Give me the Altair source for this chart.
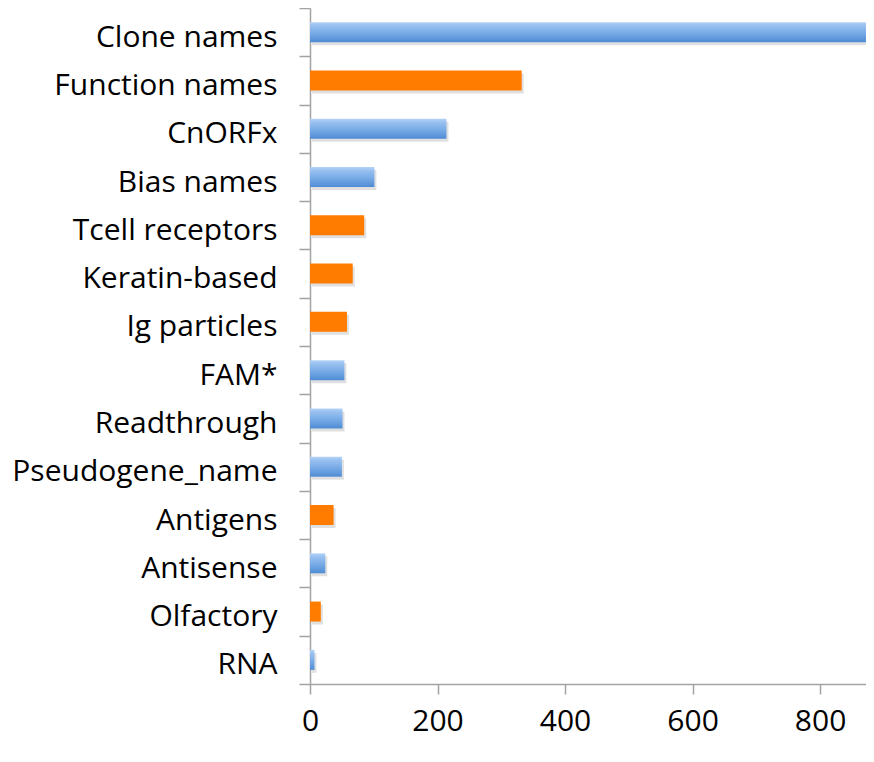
import altair as alt
import pandas as pd

categories = ["Clone names", "Function names", "CnORFx", "Bias names", "Tcell receptors",
              "Keratin-based", "Ig particles", "FAM*", "Readthrough", "Pseudogene_name",
              "Antigens", "Antisense", "Olfactory", "RNA"]
counts = [882, 332, 214, 101, 85, 67, 58, 54, 51, 50, 37, 24, 17, 7]
groups = ["blue", "orange", "blue", "blue", "orange", "orange", "orange", "blue",
          "blue", "blue", "orange", "blue", "orange", "blue"]
x_ticks = [0, 200, 400, 600, 800]

df = pd.DataFrame({"category": categories, "count": counts, "group": groups})

FONT = "Open Sans"
AX = "#A3A3A3"
BAR = 20

x_enc = alt.X(
    "count:Q",
    scale=alt.Scale(domain=[0, 872], clamp=True, nice=False, zero=True),
    axis=alt.Axis(values=x_ticks, title=None, grid=False, labelPadding=12,
                  tickSize=10, labelFontSize=30, labelFlush=False),
)
y_enc = alt.Y(
    "category:N",
    sort=categories,
    scale=alt.Scale(paddingInner=0, paddingOuter=0),
    axis=alt.Axis(title=None, tickBand="extent", tickSize=11, labelPadding=22,
                  labelFontSize=30, labelLimit=400, labelOffset=5),
)

base = alt.Chart(df)

shadow = base.mark_bar(color="#000000", opacity=0.12, xOffset=2, yOffset=3,
                       size=BAR).encode(x=x_enc, y=y_enc)

blue = base.transform_filter(alt.datum.group == "blue").mark_bar(
    size=BAR,
    color=alt.Gradient(
        gradient="linear", x1=0, y1=0, x2=0, y2=1,
        stops=[
            alt.GradientStop(color="#B7D4F7", offset=0),
            alt.GradientStop(color="#9BC2F1", offset=0.15),
            alt.GradientStop(color="#78ABE7", offset=0.55),
            alt.GradientStop(color="#4F8CD4", offset=1),
        ],
    ),
).encode(x=x_enc, y=y_enc)

orange = base.transform_filter(alt.datum.group == "orange").mark_bar(
    size=BAR, color="#FF7C00"
).encode(x=x_enc, y=y_enc)

chart = alt.layer(shadow, blue, orange).properties(
    width=556,
    height=676,
    padding={"left": 302, "top": 0, "right": 0, "bottom": 64},
    autosize=alt.AutoSizeParams(type="none"),
).configure_view(stroke=None).configure_axis(
    labelFont=FONT,
    labelColor="#000000",
    domainColor=AX,
    domainWidth=1.5,
    tickColor=AX,
    tickWidth=1.5,
)

chart.save("out.html", embed_options={"renderer": "svg", "actions": False})
